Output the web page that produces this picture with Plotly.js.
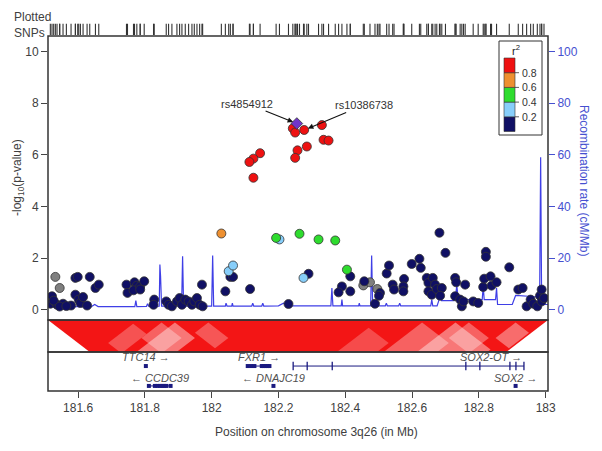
<!DOCTYPE html>
<html><head><meta charset="utf-8">
<script src="https://cdn.plot.ly/plotly-3.0.1.min.js"></script>
<style>html,body{margin:0;padding:0;background:#fff}#chart{width:602px;height:451px}</style>
</head><body><div id="chart"></div>
<script>
// ---------------- DATA ----------------
// SNPs: position (Mb), -log10(p), r2 with index SNP (null = no LD info)
const snpPos = [
181.532,181.545,182.454,182.474,182.496,
181.522,181.517,181.537,181.555,181.579,181.592,181.599,181.592,181.602,181.607,181.615,181.627,181.635,181.652,181.662,181.527,181.545,181.565,
181.745,181.748,181.769,181.776,181.766,181.786,181.798,181.786,181.828,181.826,181.864,181.871,181.881,181.896,181.904,181.911,181.921,181.931,181.941,181.948,181.956,181.964,181.971,181.973,
182.041,182.056,182.064,182.115,182.230,182.290,182.415,182.390,182.380,182.415,182.457,182.489,182.504,182.501,182.524,182.531,182.542,182.546,
182.576,182.574,182.574,182.599,182.622,182.626,182.644,182.649,182.662,182.649,182.659,182.669,182.682,182.674,182.689,182.684,182.700,
182.729,182.732,182.729,182.744,182.749,182.759,182.754,182.783,182.798,182.813,182.816,182.821,182.821,182.835,182.838,182.853,182.891,
182.918,182.931,182.943,182.955,182.963,182.975,182.983,182.988,182.988,182.995,
182.051,182.064,182.203,182.275,
182.193,182.263,182.320,182.370,182.405,
182.029,
182.243,182.250,182.277,182.330,182.335,182.350,182.285,182.257,182.250,182.145,182.125,182.113,182.125
];
const snpLogP = [
1.27,0.84,0.94,1.06,0.80,
0.52,0.23,0.19,0.23,0.16,1.23,1.27,0.58,0.39,0.26,0.49,0.16,1.27,0.84,0.97,0.35,0.12,0.14,
0.97,0.65,1.06,0.93,0.75,0.90,1.10,0.78,0.39,0.19,0.32,0.19,0.13,0.32,0.45,0.19,0.39,0.32,0.19,0.32,0.45,0.19,0.97,0.13,
0.71,1.27,1.27,0.80,0.22,1.39,1.29,0.90,0.67,0.71,1.10,0.23,0.65,0.54,1.40,1.71,0.97,0.78,
1.19,0.90,0.71,1.77,1.97,1.62,1.23,1.04,1.23,0.71,0.58,0.97,2.98,0.80,0.84,0.54,2.20,
1.23,1.06,0.52,0.39,0.13,0.97,0.32,0.32,0.26,0.88,1.20,2.24,2.05,1.29,0.93,1.06,1.64,
0.78,0.84,0.13,0.39,0.23,0.13,0.54,0.78,0.32,0.45,
1.49,1.71,2.72,1.23,
2.78,2.94,2.72,2.68,1.55,
2.95,
7.02,6.86,6.96,7.15,6.58,6.55,6.32,6.17,5.88,6.06,5.85,5.72,5.11
];
const snpR2 = [
null,null,null,null,null,
0.1,0.1,0.1,0.1,0.1,0.1,0.1,0.1,0.1,0.1,0.1,0.1,0.1,0.1,0.1,0.1,0.1,0.1,
0.1,0.1,0.1,0.1,0.1,0.1,0.1,0.1,0.1,0.1,0.1,0.1,0.1,0.1,0.1,0.1,0.1,0.1,0.1,0.1,0.1,0.1,0.1,0.1,
0.1,0.1,0.1,0.1,0.1,0.1,0.1,0.1,0.1,0.1,0.1,0.1,0.1,0.1,0.1,0.1,0.1,0.1,
0.1,0.1,0.1,0.1,0.1,0.1,0.1,0.1,0.1,0.1,0.1,0.1,0.1,0.1,0.1,0.1,0.1,
0.1,0.1,0.1,0.1,0.1,0.1,0.1,0.1,0.1,0.1,0.1,0.1,0.1,0.1,0.1,0.1,0.1,
0.1,0.1,0.1,0.1,0.1,0.1,0.1,0.1,0.1,0.1,
0.3,0.3,0.3,0.3,
0.5,0.5,0.5,0.5,0.5,
0.7,
0.9,0.9,0.9,0.9,0.9,0.9,0.9,0.9,0.9,0.9,0.9,0.9,0.9
];
// index SNP
const indexPos = [182.255];
const indexLogP = [7.21];
// labelled SNPs
const labelNames = ['rs4854912','rs10386738'];
const labelPos = [182.255, 182.277];
const labelLogP = [7.21, 6.96];

// recombination rate (cM/Mb)
const recombPos = [181.510,181.640,181.650,181.660,181.770,181.773,181.776,181.805,181.808,181.812,
181.843,181.845,181.847,181.850,181.910,181.913,181.916,182.000,182.003,182.006,
182.041,182.043,182.046,182.060,182.062,182.064,182.120,182.123,182.126,182.150,182.153,182.156,
182.200,182.215,182.230,182.357,182.360,182.363,182.388,182.390,182.392,182.440,182.442,182.444,
182.476,182.479,182.482,182.520,182.523,182.526,182.560,182.563,182.566,182.656,182.659,182.662,
182.675,182.680,182.684,182.688,182.725,182.730,182.734,182.738,182.810,182.813,182.816,
182.850,182.853,182.856,182.900,182.910,182.970,182.982,182.985,182.988,183.007];
const recombRate = [1.2,1.2,2.0,1.2,1.2,3.5,1.2,1.3,2.3,1.3,
1.4,17.5,13,1.4,1.4,20.7,1.4,1.4,21,1.4,
1.4,2.5,1.4,1.4,2.5,1.4,1.4,2.5,1.4,1.4,2.5,1.4,
1.5,2.5,1.5,1.5,8.4,1.5,1.5,3.9,1.5,1.5,2.5,1.5,
1.5,21,1.5,1.5,2.5,1.5,1.5,2.5,1.5,1.5,3.9,1.5,
1.5,3.5,7.5,3.5,3.5,5.0,9.5,3.9,3.9,9.0,3.9,
3.9,8.4,2.0,2.0,5.5,5.0,5.0,59,2.0,2.0];

// LD display: maximum pair distance shown at bottom of LD panel (Mb)
const ldMaxDist = 0.25;
const ldSpan = [181.51, 183.007];
// blocks of low LD: SNP pairs with i in [a1,a2], j in [b1,b2]
const ldLowA1 = [181.62, 181.72, 181.90, 182.40, 182.30, 182.78, 182.64, 182.20, 181.60];
const ldLowA2 = [181.88, 181.84, 181.98, 182.72, 182.62, 182.90, 182.76, 182.44, 181.75];
const ldLowB1 = [181.90, 181.86, 182.00, 182.74, 182.64, 182.92, 182.78, 182.50, 181.78];
const ldLowB2 = [182.02, 181.98, 182.12, 182.95, 182.80, 183.00, 182.90, 182.62, 181.86];
const ldLowStrength = [0.45, 0.35, 0.3, 0.45, 0.35, 0.4, 0.35, 0.25, 0.28];

// genes
const geneNames = ['TTC14','CCDC39','FXR1','DNAJC19','SOX2-OT','SOX2'];
const geneStart = [181.800,181.810,182.106,182.182,182.244,182.907];
const geneEnd   = [181.806,181.879,182.175,182.188,182.935,182.912];
const geneStrand = ['+','-','+','-','+','+'];
const geneRow = [1,2,1,2,1,2];
const geneExons = [[181.803],[181.812,181.830,181.838,181.846,181.852,181.858,181.864,181.877],
  [182.108,182.118,182.128,182.150,182.156,182.162,182.168,182.173],[182.185],
  [182.244,182.286,182.361,182.761,182.803,182.893,182.911,182.935],[182.910]];

// axis ticks
const xTickVals = [181.6,181.8,182,182.2,182.4,182.6,182.8,183];
const xTickText = ['181.6','181.8','182','182.2','182.4','182.6','182.8','183'];
const yTickVals = [0,2,4,6,8,10];
const recTickVals = [0,20,40,60,80,100];

// r2 legend
const ldBreaks = [0.2,0.4,0.6,0.8];
const ldBinColors = ['#101064','#87CEFA','#2EDC2E','#EE9030','#EE1111'];
const missingColor = '#7F7F7F';
const indexColor = '#7035C9';

// ---------------- CHART ----------------
const FONT = 'Liberation Sans, Arial, sans-serif';
const TXT = '#404040';
const BLUE = '#4650D0';
const px = x => (x-48)/500;
const py = y => (391-y)/369;

function binOf(r){ if(r===null) return -1; let b=0; for(const t of ldBreaks){ if(r>=t) b++; } return b; }

const traces = [];
traces.push({x:recombPos, y:recombRate, xaxis:'x', yaxis:'y', mode:'lines',
  line:{color:'#3F3FE6', width:1.2}, hoverinfo:'skip', showlegend:false});

for(let b=-1;b<ldBinColors.length;b++){
  const xs=[],ys=[];
  snpPos.forEach((p,i)=>{ if(binOf(snpR2[i])===b){xs.push(p);ys.push(snpLogP[i]);} });
  traces.push({x:xs,y:ys,xaxis:'x',yaxis:'y4',mode:'markers',showlegend:false,
    marker:{size:9,color:b<0?missingColor:ldBinColors[b],line:{color:'#333',width:0.8}}});
}
traces.push({x:indexPos,y:indexLogP,xaxis:'x',yaxis:'y4',mode:'markers',showlegend:false,
  marker:{symbol:'diamond',size:9,color:indexColor,line:{color:'#333',width:0.8}}});

const rugX = snpPos.concat(indexPos);
traces.push({x:rugX, y:rugX.map(()=>0.5), xaxis:'x', yaxis:'y5',
  mode:'markers', showlegend:false, hoverinfo:'skip',
  marker:{symbol:'line-ns', size:8, line:{color:'#333', width:1.1}}});

const ldY = (i,j) => 1 - (j-i)/ldMaxDist;
traces.push({x:[ldSpan[0],ldSpan[1],ldSpan[1]-ldMaxDist/2,ldSpan[0]+ldMaxDist/2,ldSpan[0]],
  y:[1,1,0,0,1], xaxis:'x', yaxis:'y2', mode:'lines', fill:'toself', fillcolor:'#F31515',
  line:{width:0}, hoverinfo:'skip', showlegend:false});
for(let k=0;k<ldLowA1.length;k++){
  const a1=ldLowA1[k],a2=ldLowA2[k],b1=ldLowB1[k],b2=ldLowB2[k];
  const pts=[[a2,b1],[a1,b1],[a1,b2],[a2,b2],[a2,b1]];
  traces.push({x:pts.map(p=>(p[0]+p[1])/2), y:pts.map(p=>ldY(p[0],p[1])), xaxis:'x', yaxis:'y2',
    mode:'lines', fill:'toself', fillcolor:`rgba(255,240,240,${ldLowStrength[k]})`,
    line:{width:0}, hoverinfo:'skip', showlegend:false});
}

const rowBody = {1:0.64, 2:0.13};
const rowLabel = {1:0.86, 2:0.34};
const gx=[],gy=[];
geneNames.forEach((g,i)=>{ gx.push(geneStart[i],geneEnd[i],null); gy.push(rowBody[geneRow[i]],rowBody[geneRow[i]],null); });
traces.push({x:gx,y:gy,xaxis:'x',yaxis:'y3',mode:'lines',line:{color:'#1A1A80',width:1},hoverinfo:'skip',showlegend:false});
geneNames.forEach((g,i)=>{
  const long = geneEnd[i]-geneStart[i] > 0.3;
  traces.push({x:geneExons[i], y:geneExons[i].map(()=>rowBody[geneRow[i]]), xaxis:'x', yaxis:'y3',
    mode:'markers', hoverinfo:'skip', showlegend:false,
    marker: long ? {symbol:'line-ns',size:6,line:{color:'#1A1A80',width:1.3}}
                 : {symbol:'square',size:4,color:'#1A1A80',line:{width:0}}});
});

const annotations = [];
geneNames.forEach((g,i)=>{
  const long = geneEnd[i]-geneStart[i] > 0.3;
  const txt = geneStrand[i]==='+' ? g+' \u2192' : '\u2190 '+g;
  annotations.push({x: long ? geneEnd[i] : (geneStart[i]+geneEnd[i])/2, y: rowLabel[geneRow[i]],
    xref:'x', yref:'y3', text:'<i>'+txt+'</i>', showarrow:false,
    xanchor: long ? 'right':'center', yanchor:'middle', font:{family:FONT,size:11,color:'#505050'}});
});
const labelOffset = [[-50,-20],[60,-25]];
labelNames.forEach((n,i)=>{
  annotations.push({x:labelPos[i], y:labelLogP[i], xref:'x', yref:'y4', text:n, showarrow:true,
    arrowhead:2, arrowsize:1, arrowwidth:1.1, arrowcolor:'#111', standoff:4,
    ax:labelOffset[i][0], ay:labelOffset[i][1], font:{family:FONT,size:11,color:'#333'}});
});
annotations.push({x:px(18),y:py(178),xref:'paper',yref:'paper',text:'-log<sub>10</sub>(p-value)',
  textangle:-90,xanchor:'center',yanchor:'middle',showarrow:false,font:{family:FONT,size:12,color:TXT}});
annotations.push({x:px(584),y:py(180),xref:'paper',yref:'paper',text:'Recombination rate (cM/Mb)',
  textangle:90,xanchor:'center',yanchor:'middle',showarrow:false,font:{family:FONT,size:12,color:BLUE}});
annotations.push({x:px(316),y:py(432),xref:'paper',yref:'paper',text:'Position on chromosome 3q26 (in Mb)',
  xanchor:'center',yanchor:'middle',showarrow:false,font:{family:FONT,size:12,color:TXT}});
annotations.push({x:px(12),y:py(25),xref:'paper',yref:'paper',text:'Plotted<br>SNPs',align:'left',
  xanchor:'left',yanchor:'middle',showarrow:false,font:{family:FONT,size:12,color:TXT}});

const shapes = [];
const border = {color:'#333',width:1.5};
shapes.push({type:'rect',xref:'paper',yref:'paper',x0:px(48),x1:px(548),y0:py(320),y1:py(36),line:border});
shapes.push({type:'rect',xref:'paper',yref:'paper',x0:px(48),x1:px(548),y0:py(352),y1:py(320),line:border});
shapes.push({type:'rect',xref:'paper',yref:'paper',x0:px(48),x1:px(548),y0:py(391),y1:py(352),line:border});
shapes.push({type:'rect',xref:'paper',yref:'paper',x0:px(499),x1:px(542),y0:py(135),y1:py(41),
  line:{color:'#333',width:1},fillcolor:'#fff',layer:'above'});
const barBottom=131.5, barTop=58, barH=(barBottom-barTop);
const edges=[0].concat(ldBreaks,[1]);
for(let b=0;b<ldBinColors.length;b++){
  shapes.push({type:'rect',xref:'paper',yref:'paper',x0:px(504),x1:px(515),
    y0:py(barBottom-edges[b]*barH), y1:py(barBottom-edges[b+1]*barH),
    fillcolor:ldBinColors[b], line:{color:'#333',width:0.6}, layer:'above'});
}
ldBreaks.forEach(t=>{
  const yy = barBottom - t*barH;
  shapes.push({type:'line',xref:'paper',yref:'paper',x0:px(515),x1:px(519),y0:py(yy),y1:py(yy),
    line:{color:'#333',width:0.8},layer:'above'});
  annotations.push({x:px(519.5),y:py(yy),xref:'paper',yref:'paper',text:String(t),xanchor:'left',yanchor:'middle',
    showarrow:false,font:{family:FONT,size:10.5,color:'#333'}});
});
annotations.push({x:px(516),y:py(50),xref:'paper',yref:'paper',text:'r<sup>2</sup>',xanchor:'center',yanchor:'middle',
  showarrow:false,font:{family:FONT,size:11,color:'#222'}});

const mainDom=[py(320),py(36)];
const layout = {
  width:602, height:451, margin:{l:48,r:54,t:22,b:60,pad:0},
  paper_bgcolor:'#fff', plot_bgcolor:'#fff', showlegend:false,
  font:{family:FONT,size:12,color:TXT},
  xaxis:{domain:[0,1],anchor:'y3',range:[181.51,183.007],tickvals:xTickVals,ticktext:xTickText,
    ticks:'outside',ticklen:6,tickwidth:1,tickcolor:'#444',showgrid:false,zeroline:false,showline:false,
    tickfont:{family:FONT,size:12,color:TXT}},
  yaxis:{domain:mainDom,anchor:'x',side:'right',range:[-4,106],tickvals:recTickVals,ticks:'outside',ticklen:6,
    tickcolor:BLUE,tickfont:{family:FONT,size:12,color:BLUE},showgrid:false,zeroline:false,showline:false},
  yaxis4:{overlaying:'y',anchor:'x',side:'left',range:[-0.4,10.6],tickvals:yTickVals,ticks:'outside',ticklen:6,
    tickcolor:'#444',tickfont:{family:FONT,size:12,color:TXT},showgrid:false,zeroline:false,showline:false},
  yaxis2:{domain:[py(352),py(320)],anchor:'x',range:[0,1],visible:false},
  yaxis3:{domain:[0,py(352)],anchor:'x',range:[0,1],visible:false},
  yaxis5:{domain:[0.96,1],anchor:'x',range:[0,1],visible:false},
  shapes:shapes, annotations:annotations
};
Plotly.newPlot('chart', traces, layout, {displayModeBar:false, staticPlot:true});
</script></body></html>
